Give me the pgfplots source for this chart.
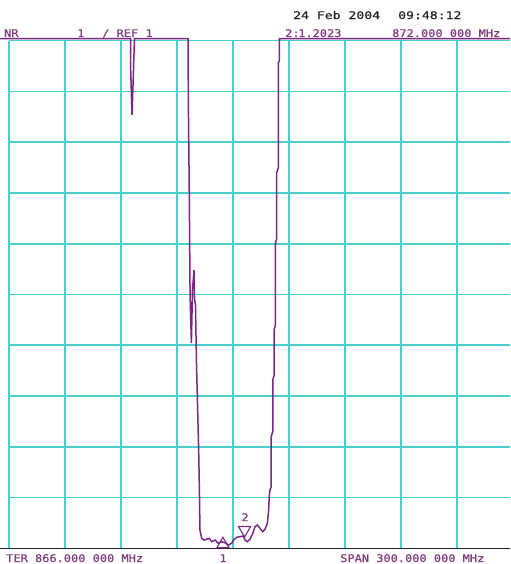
\documentclass[border=0pt]{standalone}
\usepackage{fontspec}
\newfontfamily\instr[FakeBold=0.6]{DejaVu Sans Mono}
\usepackage{graphicx}
\usepackage{pgfplots}
\pgfplotsset{compat=1.18}
\definecolor{trace}{RGB}{122,40,132}
\definecolor{txt}{RGB}{128,58,128}
\definecolor{gridc}{RGB}{72,208,208}
\definecolor{dark}{RGB}{35,35,35}
\newcommand{\T}[2][1.14]{\scalebox{#1}[1]{\instr\fontsize{10.5}{11}\selectfont #2}}
\begin{document}
\begin{tikzpicture}
\begin{axis}[scale only axis, width=510pt, height=564pt,
  xmin=741.18, xmax=1014.39, ymin=0.691, ymax=11.80,
  axis lines=none, ticks=none, clip=true]
% graticule
\pgfplotsinvokeforeach{746,776,806,836,866,896,926,956,986}{
  \addplot[gridc, line width=1.7pt, no marks] coordinates {(#1,1) (#1,11)};}
\pgfplotsinvokeforeach{2,3,4,5,6,7,8,9,10,11}{
  \addplot[gridc, line width=1.7pt, no marks] coordinates {(746,#1) (1020,#1)};}
\addplot[dark, line width=1.3pt, no marks] coordinates {(730,1) (1020,1)};
% SWR trace
\addplot[trace, line width=1.5pt, no marks] coordinates {
(716,11.04) (811.2,11.04) (811.2,10.42) (811.9,9.54) (812.6,10.3) (813.1,10.9) (813.1,11.04)
(841.9,11.04) (842.1,9.70) (842.6,7.9) (843.0,6.0) (843.7,5.04) (844.3,6.09) (845.1,6.48)
(845.4,5.90) (845.9,5.80) (846.4,4.71) (847.6,2.94) (848.0,2.15) (848.3,1.36)
(849.2,1.197) (850.5,1.164) (851.9,1.177) (853.3,1.197) (854.6,1.130) (856.4,1.164)
(858.1,1.099) (860.0,1.130) (861.7,1.110) (863.5,1.065) (865.3,1.099) (866.2,1.164)
(868.0,1.217) (869.8,1.229) (871.5,1.242) (872.4,1.164) (873.7,1.130) (875.1,1.177)
(876.6,1.296) (877.8,1.426) (879.0,1.459) (880.5,1.394) (881.9,1.327) (883.1,1.374)
(884.4,1.493) (885.1,1.755) (885.4,2.017) (885.8,2.149) (886.4,2.2) (886.4,3.19)
(887.3,3.3) (887.3,4.32) (888.0,4.4) (888.0,5.30) (888.7,5.4) (888.7,7.01)
(889.4,7.1) (889.4,8.40) (890.3,8.5) (890.3,10.57) (890.8,10.6) (890.8,11.04) (1016,11.04)
};
% markers
\addplot[trace, only marks, mark=triangle, mark size=7pt, line width=1.1pt,
  mark options={fill=white}] coordinates {(860.6,1.08)};
\addplot[trace, only marks, mark=triangle, mark size=7pt, line width=1.1pt,
  mark options={fill=white, rotate=180}] coordinates {(872.2,1.36)};
% annotation text
\node[anchor=base west, inner sep=0, text=dark] at (rel axis cs:0.5745,0.9663) {\T[1.25]{24 Feb 2004}};
\node[anchor=base west, inner sep=0, text=dark] at (rel axis cs:0.7804,0.9663) {\T[1.25]{09:48:12}};
\node[anchor=base west, inner sep=0, text=txt] at (rel axis cs:0.0078,0.9344) {\T{NR}};
\node[anchor=base west, inner sep=0, text=txt] at (rel axis cs:0.1510,0.9344) {\T{1}};
\node[anchor=base west, inner sep=0, text=txt] at (rel axis cs:0.2000,0.9344) {\T{/ REF 1}};
\node[anchor=base west, inner sep=0, text=txt] at (rel axis cs:0.5588,0.9344) {\T{2:}};
\node[anchor=base west, inner sep=0, text=txt] at (rel axis cs:0.5843,0.9344) {\T{1.2023}};
\node[anchor=base west, inner sep=0, text=txt] at (rel axis cs:0.7686,0.9344) {\T{872.000 000 MHz}};
\node[anchor=base west, inner sep=0, text=txt] at (rel axis cs:0.0118,0.0036) {\T{TER 866.000 000 MHz}};
\node[anchor=base west, inner sep=0, text=txt] at (rel axis cs:0.6667,0.0036) {\T{SPAN 300.000 000 MHz}};
\node[anchor=base, inner sep=0, text=txt] at (rel axis cs:0.4373,0.0036) {\T{1}};
\node[anchor=base, inner sep=0, text=txt] at (rel axis cs:0.4804,0.0760) {\T{2}};
\end{axis}
\pgfresetboundingbox
\path (current axis.south west) rectangle (current axis.north east);
\end{tikzpicture}
\end{document}
